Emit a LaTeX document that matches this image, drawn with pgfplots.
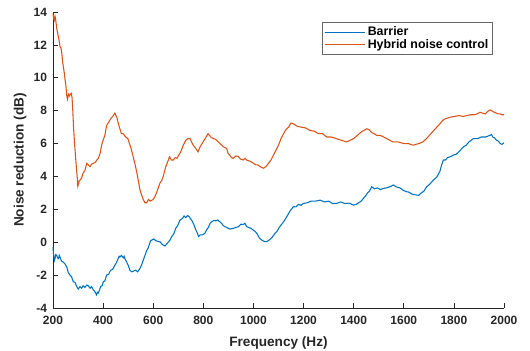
\documentclass[border=0pt]{standalone}
\usepackage{pgfplots}
\pgfplotsset{compat=1.18}
\usepackage{fontspec}
\setmainfont{Liberation Sans}
\definecolor{mblue}{RGB}{0,114,189}
\definecolor{morange}{RGB}{217,83,25}
\definecolor{axgray}{RGB}{38,38,38}
\begin{document}
\begin{tikzpicture}
\begin{axis}[
  scale only axis,
  width=338.25pt, height=222pt,
  xmin=200, xmax=2000, ymin=-4, ymax=14,
  xtick={200,400,...,2000}, ytick={-4,-2,...,14},
  axis lines*=left,
  axis line style={axgray, line width=0.6pt},
  tick style={axgray, line width=0.5pt},
  tick align=inside,
  major tick length=3.5pt,
  /pgf/number format/assume math mode=true,
  /pgf/number format/1000 sep={},
  ticklabel style={font=\fontsize{9}{10}\selectfont\bfseries, text=axgray},
  xticklabel style={yshift=-2.5pt},
  yticklabel style={xshift=-1pt},
  xlabel={Frequency (Hz)}, ylabel={Noise reduction (dB)},
  label style={font=\fontsize{10.2}{11}\selectfont\bfseries, text=axgray},
  xlabel style={yshift=-2.5pt},
  ylabel style={yshift=-1.5pt},
  legend style={at={(rel axis cs:0.9756,0.966)}, anchor=north east, draw=axgray!70, line width=0.6pt,
    font=\fontsize{9.3}{10}\selectfont\bfseries, text=black, row sep=-3pt, inner sep=1.2pt},
  legend cell align=left,
  legend image code/.code={\draw[#1] (0pt,0pt) -- (30pt,0pt);},
  clip=false,
]
\coordinate (ll) at (rel axis cs:0,0);
\coordinate (ur) at (rel axis cs:1,1);
\addplot[mblue, line width=0.8pt] coordinates {
(200,-0.3)(202,-0.7)(204,-0.9)(206,-1.1)(208,-1.0)(211,-0.75)(215,-0.8)(218,-0.95)(222,-1.0)(225,-0.8)(228,-0.9)(234,-1.15)(240,-1.2)(247,-1.3)(255,-1.5)(261,-1.85)(268,-2.0)(274,-2.1)(281,-2.4)(288,-2.45)(295,-2.7)(301,-2.85)(308,-2.7)(314,-2.8)(320,-2.65)(327,-2.75)(335,-2.6)(341,-2.65)(348,-2.8)(354,-2.7)(361,-2.9)(367,-3.0)(374,-3.2)(377,-3.05)(380,-3.1)(385,-2.95)(390,-2.7)(396,-2.65)(401,-2.4)(407,-2.35)(414,-2.0)(422,-1.95)(430,-1.7)(438,-1.65)(447,-1.4)(453,-1.25)(460,-1.0)(464,-0.85)(467,-0.9)(473,-0.8)(480,-0.95)(484,-0.85)(487,-1.0)(494,-1.2)(500,-1.4)(507,-1.7)(514,-1.8)(522,-1.75)(530,-1.7)(538,-1.8)(547,-1.6)(553,-1.4)(560,-1.1)(567,-0.8)(574,-0.5)(580,-0.35)(585,-0.1)(590,0.1)(594,0.13)(602,0.2)(610,0.1)(618,0.05)(627,0.03)(637,-0.15)(647,-0.23)(657,-0.05)(667,0.13)(674,0.35)(682,0.5)(690,0.85)(697,1.0)(707,1.35)(717,1.45)(723,1.6)(730,1.5)(737,1.62)(744,1.55)(750,1.4)(755,1.3)(760,1.15)(764,1.0)(770,0.75)(775,0.6)(781,0.35)(787,0.44)(796,0.45)(806,0.54)(813,0.75)(820,0.9)(827,1.15)(833,1.24)(842,1.32)(850,1.3)(858,1.35)(866,1.24)(873,1.15)(880,1.0)(886,0.95)(893,0.9)(905,0.8)(919,0.84)(930,0.9)(940,0.95)(950,1.1)(959,1.08)(966,1.15)(973,0.95)(980,0.9)(990,0.85)(999,0.74)(1007,0.65)(1015,0.5)(1024,0.25)(1033,0.13)(1043,0.05)(1053,0.03)(1064,0.15)(1075,0.3)(1084,0.5)(1093,0.64)(1103,0.9)(1113,1.1)(1123,1.3)(1133,1.55)(1146,1.9)(1159,2.16)(1170,2.15)(1180,2.3)(1190,2.25)(1199,2.36)(1215,2.4)(1230,2.5)(1248,2.5)(1266,2.56)(1283,2.45)(1300,2.5)(1316,2.35)(1332,2.36)(1348,2.45)(1365,2.35)(1382,2.38)(1399,2.26)(1410,2.3)(1420,2.4)(1430,2.5)(1439,2.67)(1447,2.8)(1455,3.0)(1463,3.1)(1472,3.37)(1483,3.25)(1495,3.3)(1507,3.2)(1518,3.27)(1529,3.3)(1540,3.35)(1549,3.4)(1558,3.48)(1572,3.35)(1585,3.3)(1598,3.15)(1611,3.07)(1620,3.05)(1630,2.95)(1640,2.9)(1651,2.87)(1660,2.85)(1670,3.0)(1680,3.1)(1691,3.37)(1705,3.55)(1718,3.78)(1731,3.95)(1744,4.3)(1751,4.7)(1758,5.0)(1766,5.0)(1775,5.15)(1786,5.2)(1798,5.3)(1809,5.35)(1820,5.5)(1829,5.65)(1838,5.8)(1849,5.9)(1860,6.1)(1869,6.2)(1878,6.3)(1894,6.3)(1910,6.4)(1927,6.4)(1944,6.5)(1950,6.55)(1955,6.4)(1962,6.35)(1970,6.2)(1977,6.15)(1985,6.0)(1992,5.95)(2000,6.05)
};
\addlegendentry{Barrier}
\addplot[morange, line width=0.8pt] coordinates {
(200,13.9)(203,13.6)(205,13.5)(208,13.75)(210,13.6)(215,13.0)(220,12.6)(224,12.3)(228,11.9)(232,11.8)(235,11.5)(238,11.0)(241,10.7)(245,10.3)(248,9.9)(251,9.6)(255,8.9)(258,8.7)(262,9.0)(266,8.9)(270,9.0)(273,9.05)(276,8.8)(279,8.0)(282,7.0)(286,6.0)(290,5.2)(294,4.4)(297,3.9)(299,3.4)(301,3.5)(305,3.75)(310,3.8)(315,3.95)(320,4.2)(327,4.35)(335,4.8)(341,4.7)(348,4.6)(354,4.75)(361,4.8)(368,4.85)(375,5.0)(381,5.1)(388,5.4)(394,5.9)(400,6.2)(407,6.5)(414,7.1)(422,7.3)(430,7.5)(438,7.65)(447,7.85)(451,7.7)(455,7.6)(461,7.2)(467,6.9)(473,6.6)(480,6.6)(490,6.4)(499,6.3)(505,6.0)(510,5.8)(515,5.5)(520,5.2)(528,4.7)(535,4.2)(541,3.7)(547,3.2)(553,2.9)(560,2.6)(567,2.4)(574,2.4)(581,2.6)(588,2.5)(594,2.55)(600,2.6)(606,2.75)(613,3.0)(620,3.3)(627,3.6)(634,3.75)(640,4.0)(645,4.3)(650,4.6)(658,4.9)(665,5.2)(672,5.0)(680,5.0)(688,5.15)(695,5.1)(702,5.3)(710,5.5)(720,5.9)(730,6.2)(738,6.3)(747,6.3)(753,6.1)(760,5.9)(770,5.7)(779,5.5)(787,5.8)(795,6.0)(807,6.3)(819,6.6)(830,6.4)(840,6.3)(850,6.25)(860,6.1)(870,5.95)(880,5.8)(887,5.75)(893,5.7)(899,5.4)(905,5.3)(912,5.15)(919,5.1)(930,5.25)(940,5.2)(950,5.05)(960,5.0)(966,5.1)(973,5.0)(982,4.95)(990,4.9)(1000,4.8)(1010,4.7)(1018,4.7)(1026,4.6)(1033,4.55)(1040,4.5)(1050,4.6)(1060,4.8)(1070,5.0)(1080,5.3)(1090,5.6)(1100,5.9)(1110,6.3)(1120,6.6)(1130,6.85)(1140,7.0)(1150,7.25)(1160,7.2)(1175,7.05)(1190,7.0)(1208,6.95)(1226,6.8)(1243,6.75)(1260,6.6)(1276,6.6)(1292,6.4)(1311,6.4)(1330,6.3)(1351,6.2)(1372,6.1)(1386,6.2)(1400,6.3)(1415,6.5)(1430,6.7)(1441,6.8)(1452,6.9)(1461,6.85)(1470,6.7)(1481,6.6)(1492,6.5)(1506,6.5)(1520,6.4)(1538,6.25)(1557,6.1)(1578,6.1)(1600,6.0)(1618,6.0)(1637,5.9)(1648,5.95)(1660,6.0)(1676,6.1)(1691,6.3)(1705,6.55)(1720,6.8)(1732,7.0)(1744,7.2)(1755,7.4)(1765,7.5)(1775,7.55)(1784,7.6)(1802,7.65)(1820,7.7)(1836,7.65)(1851,7.7)(1866,7.75)(1880,7.75)(1892,7.8)(1904,7.9)(1915,7.85)(1925,7.8)(1935,7.95)(1944,8.05)(1950,8.0)(1955,7.95)(1962,7.9)(1970,7.85)(1978,7.8)(1985,7.8)(1992,7.75)(2000,7.75)
};
\addlegendentry{Hybrid noise control}
\end{axis}
\pgfresetboundingbox
\path ([xshift=-39.75pt,yshift=-31.5pt]ll) rectangle ([xshift=19.5pt,yshift=9pt]ur);
\end{tikzpicture}
\end{document}
